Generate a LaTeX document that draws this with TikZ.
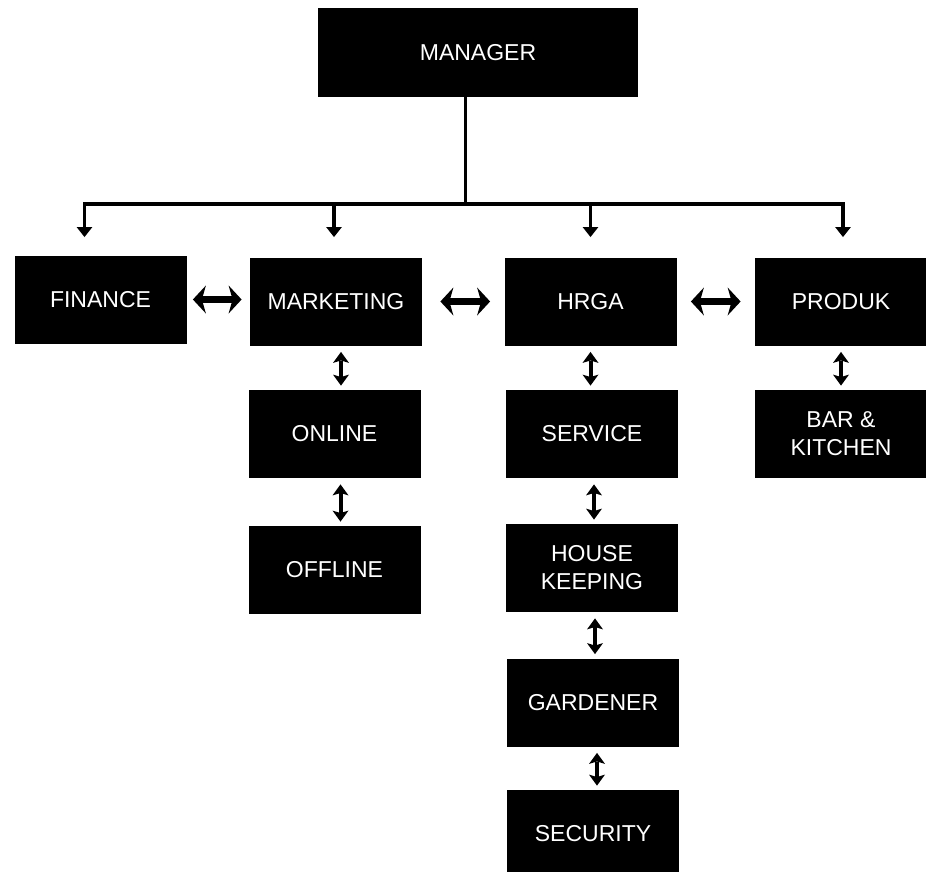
\documentclass[tikz,border=0pt]{standalone}
\usepackage{fontspec}
\setmainfont{Liberation Sans}
\usetikzlibrary{arrows.meta}

\begin{document}
\begin{tikzpicture}[x=0.5pt,y=-0.5pt,
	box/.style={fill=black,text=white,minimum width=86pt,minimum height=44pt,inner sep=0pt,align=center,font=\fontsize{11.5}{14}\selectfont},
	drop/.style={line width=1.8pt,-{Triangle[length=5pt,width=7.5pt]}},
	dbl/.style={line width=3.5pt,{Stealth[length=6.5pt,width=14pt,inset=2pt,line width=0pt]}-{Stealth[length=6.5pt,width=14pt,inset=2pt,line width=0pt]}},
	vdbl/.style={line width=2pt,shorten <=3pt,shorten >=2pt,{Stealth[length=5.5pt,width=8pt,inset=1.2pt,line width=0pt]}-{Stealth[length=5.5pt,width=8pt,inset=1.2pt,line width=0pt]}}]
	\useasboundingbox (0,0) rectangle (926,872);
	
	\node[box,minimum width=160pt,minimum height=44.5pt] (mgr) at (478,52.5) {MANAGER};
	\node[box] (fin) at (100.5,299.5) {FINANCE};
	\node[box] (mkt) at (336,301.5) {MARKETING};
	\node[box] (hrga) at (590.5,301.5) {HRGA};
	\node[box] (prod) at (841,301.5) {PRODUK};
	\node[box] (onl) at (334.5,434) {ONLINE};
	\node[box] (off) at (334.5,570) {OFFLINE};
	\node[box] (serv) at (592,434) {SERVICE};
	\node[box] (hk) at (592,568) {HOUSE\\KEEPING};
	\node[box] (gard) at (593,702.5) {GARDENER};
	\node[box] (sec) at (593,834) {SECURITY};
	\node[box] (bar) at (841,434) {BAR \&\\KITCHEN};
	
	\coordinate (bus) at (465,204);
	\draw[line width=1.5pt] (mgr.south -| bus) -- (bus);
	\draw[drop] (bus) -| ([xshift=-8pt,yshift=9pt]fin.north);
	\draw[drop] (bus) -| ([xshift=-1pt,yshift=10pt]mkt.north);
	\draw[drop] (bus) -| ([yshift=10pt]hrga.north);
	\draw[drop] (bus) -| ([xshift=1pt,yshift=10pt]prod.north);
	
	\draw[dbl,shorten <=3pt,shorten >=4pt] (fin.east) -- (fin.east -| mkt.west);
	\draw[dbl,shorten <=9pt,shorten >=7pt] (mkt.east) -- (hrga.west);
	\draw[dbl,shorten <=7pt,shorten >=7pt] (hrga.east) -- (prod.west);
	
	\draw[vdbl] ([xshift=2.5pt]mkt.south) -- ([xshift=2.5pt]mkt.south |- onl.north);
	\draw[vdbl] ([xshift=3pt]onl.south) -- ([xshift=3pt]onl.south |- off.north);
	\draw[vdbl] (hrga.south) -- (hrga.south |- serv.north);
	\draw[vdbl] ([xshift=1pt]serv.south) -- ([xshift=1pt]serv.south |- hk.north);
	\draw[vdbl] ([xshift=1.5pt]hk.south) -- ([xshift=1.5pt]hk.south |- gard.north);
	\draw[vdbl] ([xshift=2pt]gard.south) -- ([xshift=2pt]gard.south |- sec.north);
	\draw[vdbl] (prod.south) -- (bar.north);
	
\end{tikzpicture}
\end{document}
